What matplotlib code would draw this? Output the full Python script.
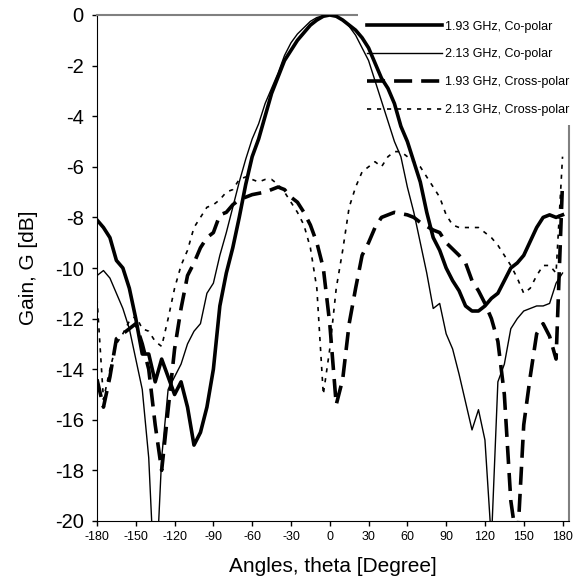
import numpy as np
import matplotlib
matplotlib.use('Agg')
import matplotlib.pyplot as plt

plt.rcParams['font.family'] = ['Liberation Sans', 'DejaVu Sans']
plt.rcParams['axes.unicode_minus'] = False

# data (5 degree steps)
angles = list(range(-180, 185, 5))

co_193 = [-8.1, -8.4, -8.8, -9.7, -10.0, -10.8, -12.0, -13.4, -13.4, -14.5,
          -13.6, -14.3, -15.0, -14.5, -15.5, -17.0, -16.5, -15.5, -14.0, -11.5,
          -10.2, -9.2, -8.0, -6.7, -5.6, -4.9, -4.0, -3.1, -2.45, -1.8,
          -1.4, -1.0, -0.7, -0.4, -0.2, -0.05, 0.0, -0.05, -0.2, -0.4,
          -0.6, -0.9, -1.3, -1.9, -2.5, -2.9, -3.5, -4.4, -5.0, -5.8,
          -6.6, -7.8, -8.8, -9.3, -10.0, -10.5, -10.9, -11.5, -11.7, -11.7,
          -11.5, -11.2, -11.0, -10.5, -10.0, -9.8, -9.5, -8.95, -8.4, -8.0,
          -7.9, -8.0, -7.9]

co_213 = [-10.3, -10.1, -10.4, -11.0, -11.6, -12.4, -13.6, -14.8, -17.5, -23.0,
          -17.5, -14.8, -14.3, -13.8, -13.0, -12.5, -12.2, -11.0, -10.6, -9.5,
          -8.6, -7.6, -6.6, -5.7, -4.9, -4.3, -3.5, -2.9, -2.3, -1.6,
          -1.1, -0.75, -0.5, -0.25, -0.1, -0.03, 0.0, -0.05, -0.2, -0.45,
          -0.8, -1.3, -1.8, -2.6, -3.4, -4.2, -5.0, -5.6, -6.8, -7.8,
          -9.0, -10.2, -11.6, -11.4, -12.6, -13.2, -14.2, -15.3, -16.4, -15.6,
          -16.8, -20.8, -14.5, -13.8, -12.4, -12.0, -11.7, -11.6, -11.5, -11.5,
          -11.4, -10.6, -10.2]

cross_193 = [-14.4, -15.5, -14.3, -12.8, -12.6, -12.4, -12.2, -13.0, -14.0, -16.2,
             -18.0, -15.6, -13.2, -11.6, -10.3, -9.8, -9.2, -8.8, -8.6, -7.9,
             -7.8, -7.5, -7.3, -7.2, -7.1, -7.05, -7.0, -6.9, -6.8, -6.9,
             -7.2, -7.4, -7.8, -8.3, -9.0, -10.0, -12.2, -15.4, -14.4, -12.2,
             -10.8, -9.5, -9.0, -8.4, -8.0, -7.9, -7.8, -7.85, -7.9, -8.0,
             -8.2, -8.35, -8.5, -8.6, -9.0, -9.25, -9.5, -9.8, -10.5, -10.9,
             -11.4, -12.0, -12.9, -15.0, -19.2, -21.0, -16.2, -14.3, -12.6, -12.2,
             -12.7, -13.6, -6.6]

cross_213 = [-11.2, -15.2, -14.0, -13.0, -12.6, -12.1, -11.9, -12.4, -12.5, -12.9,
             -13.1, -12.0, -10.8, -9.9, -9.3, -8.4, -8.0, -7.6, -7.5, -7.3,
             -7.0, -6.9, -6.5, -6.4, -6.5, -6.6, -6.5, -6.5, -6.7, -7.0,
             -7.4, -7.8, -8.3, -9.2, -10.8, -15.0, -13.2, -10.8, -9.3, -7.6,
             -6.8, -6.2, -6.0, -5.8, -6.0, -5.6, -5.4, -5.4, -5.6, -5.8,
             -6.0, -6.4, -6.8, -7.2, -7.9, -8.3, -8.4, -8.4, -8.4, -8.4,
             -8.6, -8.8, -9.1, -9.5, -9.9, -10.4, -11.0, -10.8, -10.3, -9.9,
             -9.9, -10.2, -5.6]

labels = ['1.93 GHz, Co-polar', '2.13 GHz, Co-polar',
          '1.93 GHz, Cross-polar', '2.13 GHz, Cross-polar']
xticks = list(range(-180, 181, 30))
yticks = list(range(0, -21, -2))

fig = plt.figure(figsize=(5.84, 5.83), dpi=100)
ax = fig.add_axes([97/584, 1 - 521/583, 472/584, 506/583])

ax.plot(angles, co_193, color='black', lw=2.6, label=labels[0], zorder=3)
ax.plot(angles, co_213, color='black', lw=1.0, label=labels[1], zorder=3)
ax.plot(angles, cross_193, color='black', lw=2.6, dashes=(5, 2.5),
        label=labels[2], zorder=3)
ax.plot(angles, cross_213, color='black', lw=1.2, dashes=(2.5, 3.5),
        label=labels[3], zorder=3)

ax.set_xlim(-180, 185)
ax.set_ylim(-20, 0)
ax.set_xticks(xticks)
ax.set_yticks(yticks)
ax.set_xticklabels([str(v) for v in xticks], fontsize=9)
ax.set_yticklabels([str(v) for v in yticks], fontsize=14.5)
ax.tick_params(direction='out', length=3.6, width=1, color='black')
ax.tick_params(axis='y', pad=6)
ax.set_xlabel('Angles, theta [Degree]', fontsize=15, labelpad=10)
ax.set_ylabel('Gain, G [dB]', fontsize=15, labelpad=12)

for s in ['left', 'bottom']:
    ax.spines[s].set_color('black')
for s in ['top', 'right']:
    ax.spines[s].set_color('#808080')
    ax.spines[s].set_linewidth(1.5)

leg = ax.legend(loc='upper left', bbox_to_anchor=(358/584, 1 - 12/583),
                bbox_transform=fig.transFigure, frameon=True, fancybox=False,
                edgecolor='none', facecolor='white', framealpha=1,
                fontsize=9, handlelength=6.0, handletextpad=0.25,
                labelspacing=1.26, borderpad=0.7, borderaxespad=0)
leg.set_zorder(2.6)

plt.savefig('out.png', dpi=100)
